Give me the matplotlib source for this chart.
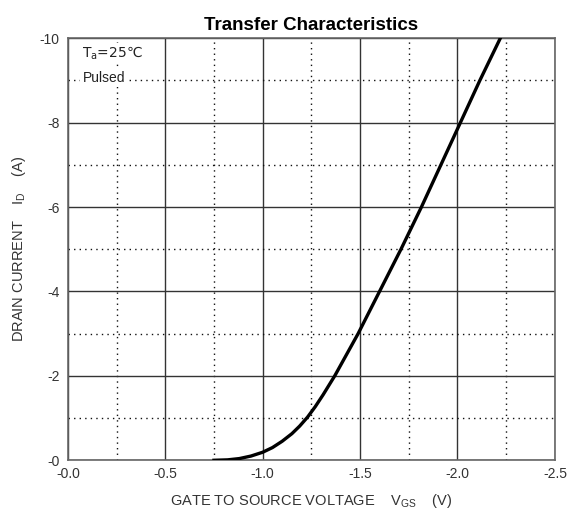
#!/usr/bin/env python3
"""
Transfer characteristics (I_D vs V_GS) chart recreation.
"""

import matplotlib
matplotlib.use("Agg")
import matplotlib.pyplot as plt
from matplotlib.ticker import MultipleLocator, FuncFormatter

plt.rcParams['font.family'] = ['Liberation Sans', 'DejaVu Sans']

# Curve (gate voltage magnitude, drain current magnitude)
vgs = [0.75, 0.82, 0.88, 0.94, 1.00, 1.05, 1.10, 1.15, 1.19, 1.23, 1.27,
       1.31, 1.37, 1.43, 1.49, 1.545, 1.60, 1.71, 1.815, 1.915, 2.015, 2.115, 2.22]
i_d = [0.0, 0.01, 0.04, 0.10, 0.19, 0.30, 0.45, 0.63, 0.81, 1.02, 1.27,
       1.55, 2.00, 2.50, 3.00, 3.50, 4.00, 5.00, 6.00, 7.00, 8.00, 9.00, 10.0]

x_ticks = [0.0, -0.5, -1.0, -1.5, -2.0, -2.5]
y_ticks = [0, -2, -4, -6, -8, -10]

fig = plt.figure(figsize=(5.75, 5.16), dpi=100)
ax = fig.add_axes([0.118, 0.108, 0.847, 0.818])

ax.set_xlim(0, -2.5)
ax.set_ylim(0, -10)

ax.xaxis.set_minor_locator(MultipleLocator(0.25))
ax.yaxis.set_minor_locator(MultipleLocator(1))
ax.set_xticks(x_ticks)
ax.set_yticks(y_ticks)
ax.xaxis.set_major_formatter(FuncFormatter(lambda v, p: f"-{abs(v):.1f}"))
ax.yaxis.set_major_formatter(FuncFormatter(lambda v, p: f"-{abs(v):.0f}"))

ax.grid(True, which='major', color='#333333', linewidth=1.0, linestyle='-')
ax.grid(True, which='minor', color='#111111', linewidth=1.0, linestyle=(0, (1, 3)))
ax.tick_params(which='both', length=0, labelsize=10, colors='#333333')
ax.tick_params(axis='x', pad=5)
ax.tick_params(axis='y', pad=6)
for s in ax.spines.values():
    s.set_color('#666666')
    s.set_linewidth(1.2)

ax.plot([-v for v in vgs], [-i for i in i_d], color='black', linewidth=2.4,
        solid_joinstyle='round', zorder=5)

ax.text(-0.075, -9.65, r"T$_\mathregular{a}$=25℃", fontsize=10, va='center', ha='left',
        family='DejaVu Sans', color='#222222',
        bbox=dict(facecolor='white', edgecolor='none', pad=1), zorder=6)
ax.text(-0.075, -9.05, "Pulsed", fontsize=10, va='center', ha='left',
        color='#222222', bbox=dict(facecolor='white', edgecolor='none', pad=1.5), zorder=6)

ax.set_title("Transfer Characteristics", fontsize=13.5, fontweight='bold', pad=6)
ax.set_xlabel(r"GATE TO SOURCE VOLTAGE    V$_\mathregular{GS}$    (V)", fontsize=10.5,
              color='#333333', labelpad=8)
ax.set_ylabel(r"DRAIN CURRENT    I$_\mathregular{D}$    (A)", fontsize=10.5,
              color='#333333', labelpad=8)

fig.savefig("out.png", dpi=100)
plt.close(fig)
